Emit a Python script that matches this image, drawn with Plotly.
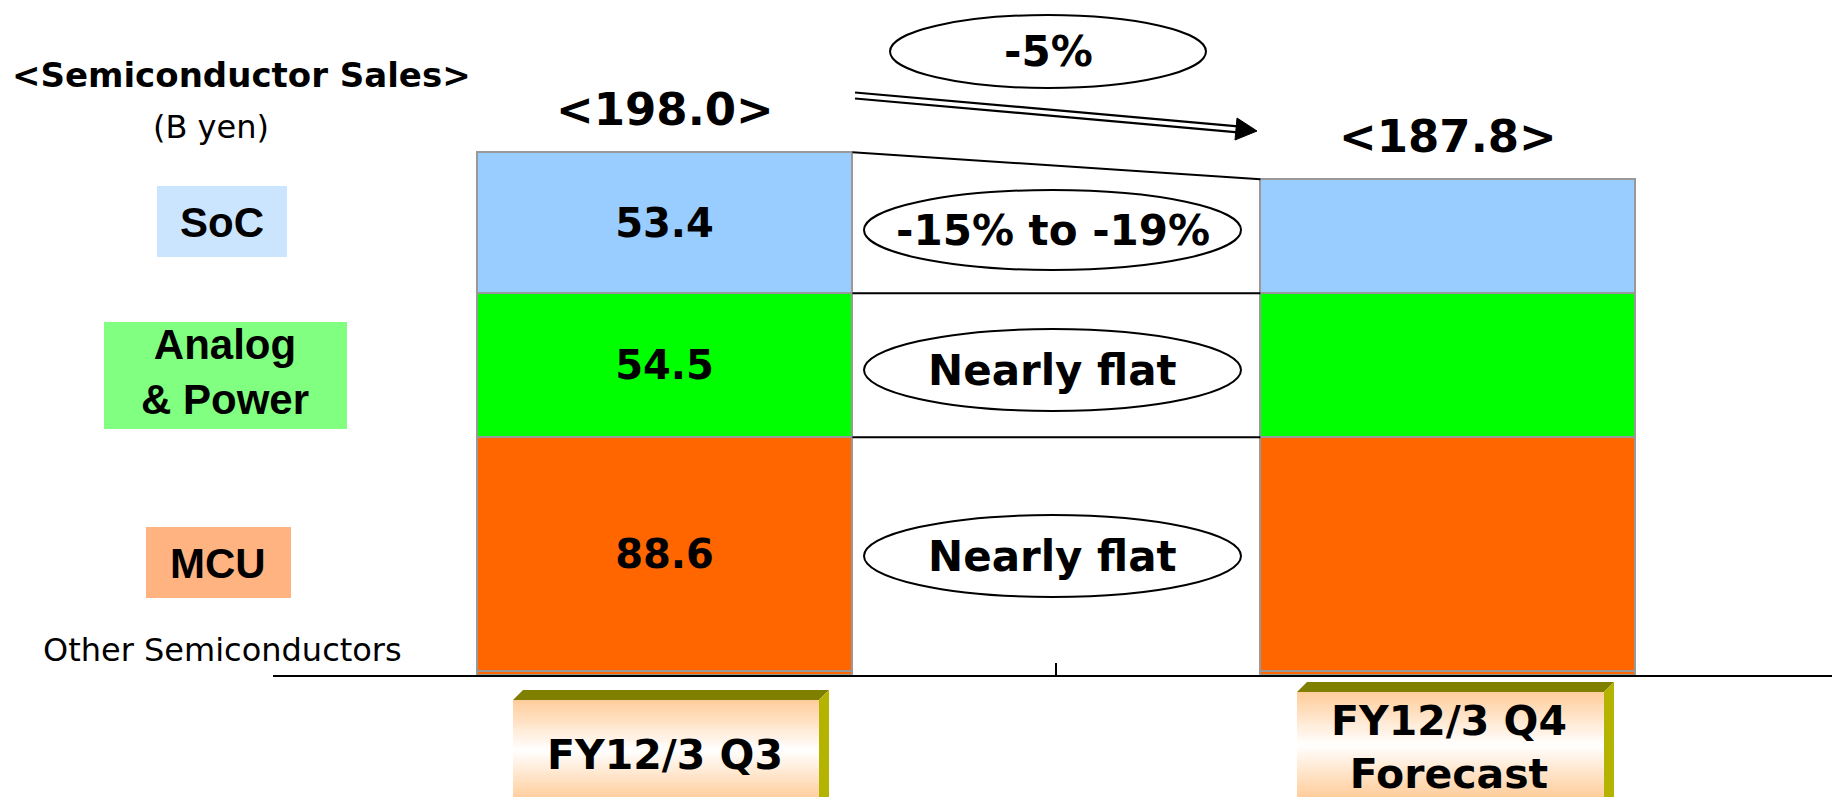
import plotly.graph_objects as go

# ---------------- data ----------------
categories = ["FY12/3 Q3", "FY12/3 Q4<br>Forecast"]
x_pos = [0, 1]
other = [1.5, 1.5]
mcu = [88.6, 88.6]
analog = [54.5, 54.5]
soc = [53.4, 43.2]
totals = [198.0, 187.8]
show_values = [True, False]
change_labels = ["-5%", "-15% to -19%", "Nearly flat", "Nearly flat"]
segment_names = ["SoC", "Analog<br>&amp; Power", "MCU"]

# ---------------- geometry helpers ----------------
W, H = 1832, 797
ML, MB = 273, 122
PW = W - ML
PH = H - MB
PX_PER_UNIT = 2.64
BAR_W = 0.479


def px(x):
    return (x - ML) / PW


def py(y):
    return (PH - y) / PH


BOLD = dict(family="DejaVu Sans", color="black", weight="bold")
ARIAL_B = dict(family="Liberation Sans", color="black", weight="bold")
REG = dict(family="DejaVu Sans", color="black")


def paper_text(fig, x, y, text, font):
    fig.add_annotation(x=px(x), y=py(y), xref="paper", yref="paper", text=text,
                       showarrow=False, xanchor="center", yanchor="middle", font=font)


fig = go.Figure()

series = [
    ("Other Semiconductors", other, "#FF6600", False),
    ("MCU", mcu, "#FF6600", True),
    ("Analog & Power", analog, "#00FF00", True),
    ("SoC", soc, "#99CCFF", True),
]
for name, vals, color, labelled in series:
    txt = [f"{v:.1f}" if (labelled and s) else "" for v, s in zip(vals, show_values)]
    fig.add_trace(go.Bar(
        name=name, x=x_pos, y=vals, width=BAR_W,
        marker=dict(color=color, line=dict(color="#999999", width=2)),
        text=txt, textposition="inside", insidetextanchor="middle", textangle=0,
        textfont=dict(size=40, **BOLD), insidetextfont=dict(size=40, **BOLD),
        constraintext="none", hoverinfo="skip", showlegend=False,
    ))

# totals above bars
for xi, t in zip(x_pos, totals):
    fig.add_annotation(x=xi, y=t, xref="x", yref="y", text=f"&lt;{t:.1f}&gt;",
                       showarrow=False, yshift=43, xanchor="center", yanchor="middle",
                       font=dict(size=45, **BOLD))

# connector lines between bars (data coordinates)
cum_low = [o + m for o, m in zip(other, mcu)]
cum_mid = [c + a for c, a in zip(cum_low, analog)]
for lvl in (totals, cum_mid, cum_low):
    fig.add_shape(type="line", xref="x", yref="y",
                  x0=x_pos[0] + BAR_W / 2, y0=lvl[0], x1=x_pos[1] - BAR_W / 2, y1=lvl[1],
                  line=dict(color="black", width=2))

# ellipses with change labels
ellipses = [(890, 1206, 15, 88), (864, 1241, 190, 270), (864, 1241, 329, 411), (864, 1241, 515, 597)]
for (x0, x1, y0, y1), lab in zip(ellipses, change_labels):
    fig.add_shape(type="circle", xref="paper", yref="paper",
                  x0=px(x0), x1=px(x1), y0=py(y1), y1=py(y0),
                  line=dict(color="black", width=2), fillcolor="white", layer="above")
    paper_text(fig, (x0 + x1) / 2, (y0 + y1) / 2, lab, dict(size=42, **BOLD))

# double arrow
for off in (-3, 3):
    fig.add_shape(type="line", xref="paper", yref="paper",
                  x0=px(855), y0=py(95.5 + off), x1=px(1238), y1=py(129.3 + off),
                  line=dict(color="black", width=2.2))
fig.add_shape(type="path", xref="paper", yref="paper",
              path=f"M {px(1257)},{py(131)} L {px(1237)},{py(118)} L {px(1235)},{py(140)} Z",
              fillcolor="black", line=dict(color="black", width=1))

# left side labels
paper_text(fig, 241, 75, "&lt;Semiconductor Sales&gt;", dict(size=34, **BOLD))
paper_text(fig, 211, 127, "(B yen)", dict(size=32, **REG))
paper_text(fig, 222, 650, "Other Semiconductors", dict(size=32, **REG))

legend_boxes = [
    ((157, 287, 186, 257), "#CCE5FF", (222, 222)),
    ((104, 347, 322, 429), "#80FF80", (225, 372)),
    ((146, 291, 527, 598), "#FFB380", (218, 563)),
]
for ((x0, x1, y0, y1), col, (tx, ty)), lab in zip(legend_boxes, segment_names):
    fig.add_shape(type="rect", xref="paper", yref="paper",
                  x0=px(x0), x1=px(x1), y0=py(y1), y1=py(y0),
                  fillcolor=col, line=dict(width=0), layer="below")
    paper_text(fig, tx, ty, lab, dict(size=42, **ARIAL_B))

# 3D category boxes with gradient front face
def lerp(c0, c1, t):
    return "rgb(%d,%d,%d)" % tuple(round(a + (b - a) * t) for a, b in zip(c0, c1))


PEACH = (255, 204, 153)
WHITE = (255, 255, 255)
cat_boxes = [
    (513, 819, 700, 750, 800, 10, (665, 755)),
    (1297, 1604, 692, 745, 798, 10, (1449, 747)),
]
for (x0, x1, ytop, ymid, ybot, d, (tx, ty)), lab in zip(cat_boxes, categories):
    n = 24
    for ya, yb, ca, cb in [(ytop, ymid, PEACH, WHITE), (ymid, ybot, WHITE, PEACH)]:
        for k in range(n):
            s0 = ya + (yb - ya) * k / n
            s1 = ya + (yb - ya) * (k + 1) / n + 0.6
            fig.add_shape(type="rect", xref="paper", yref="paper",
                          x0=px(x0), x1=px(x1), y0=py(s1), y1=py(s0),
                          fillcolor=lerp(ca, cb, (k + 0.5) / n), line=dict(width=0))
    fig.add_shape(type="path", xref="paper", yref="paper",
                  path=(f"M {px(x0)},{py(ytop)} L {px(x1)},{py(ytop)} L {px(x1 + d)},{py(ytop - d)} "
                        f"L {px(x0 + d)},{py(ytop - d)} Z"),
                  fillcolor="#808000", line=dict(width=0))
    fig.add_shape(type="path", xref="paper", yref="paper",
                  path=(f"M {px(x1)},{py(ytop)} L {px(x1 + d)},{py(ytop - d)} L {px(x1 + d)},{py(H + 5)} "
                        f"L {px(x1)},{py(H + 5)} Z"),
                  fillcolor="#B3B300", line=dict(width=0))
    paper_text(fig, tx, ty, lab, dict(size=41, **BOLD))

fig.update_layout(
    width=W, height=H, barmode="stack", bargap=0,
    margin=dict(l=ML, r=0, t=0, b=MB, pad=0),
    paper_bgcolor="white", plot_bgcolor="white",
    showlegend=False,
    xaxis=dict(range=[-0.5005, -0.5005 + PW / 783.0], showline=True, linecolor="black", linewidth=2,
               ticks="inside", ticklen=12, tickwidth=2, tickcolor="black",
               tickvals=[-0.5, 0.5], showticklabels=False, showgrid=False, zeroline=False,
               fixedrange=True),
    yaxis=dict(range=[0, PH / PX_PER_UNIT], visible=False, showgrid=False, zeroline=False,
               fixedrange=True),
)

fig.write_html("out.html", config={"displayModeBar": False})
